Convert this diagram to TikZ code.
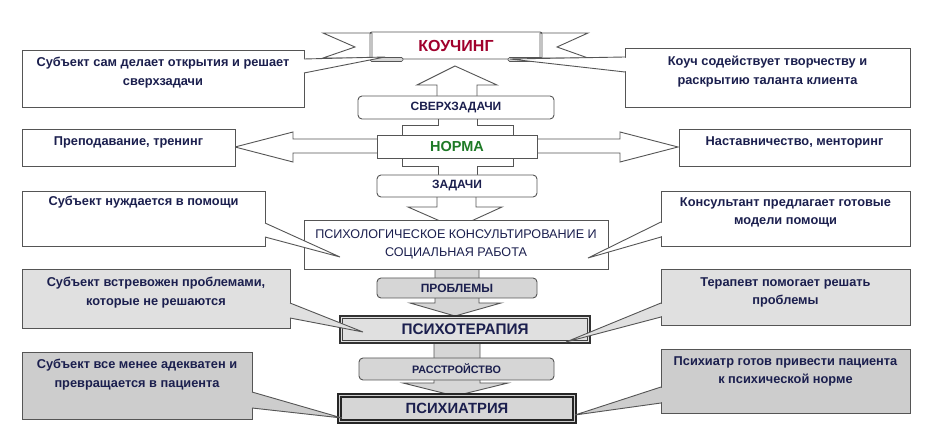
\documentclass[tikz,border=0pt]{standalone}
\usepackage{fontspec}
\setmainfont{Liberation Sans}
\usetikzlibrary{calc}
\definecolor{navy}{HTML}{1B1F4E}
\definecolor{edge}{HTML}{555555}
\definecolor{kred}{HTML}{A0002C}
\definecolor{ngreen}{HTML}{1E7A26}
\definecolor{gA}{HTML}{E0E0E0}
\definecolor{gB}{HTML}{CDCDCD}
\definecolor{gC}{HTML}{D6D6D6}
\tikzset{
  shp/.style={draw=edge, line width=0.9pt, fill=white, line join=miter},
  gshp/.style={draw=edge, line width=0.9pt, fill=gC},
  ctext/.style={text=navy, font=\fontsize{12.8}{18.5}\selectfont\bfseries, align=center, anchor=north, inner sep=0pt},
  cbox/.style={draw=edge, line width=0.9pt, inner sep=0pt, font=\fontsize{11}{14}\selectfont, text=black},
}
\begin{document}
\begin{tikzpicture}[x=1pt,y=-1pt]
\useasboundingbox (0,0) rectangle (938,446);
\fill[white] (0,0) rectangle (938,446);

% ---- block arrows (behind boxes)
\draw[shp] (437,100) -- (437,85) -- (417,85) -- (455,66) -- (497,85) -- (477,85) -- (477,100);
\draw[shp] (438,115) -- (438,125) -- (402,125) -- (402,166) -- (438,166) -- (438,180) -- (477,180) -- (477,166) -- (513,166) -- (513,125) -- (477,125) -- (477,115);
\draw[shp] (235,147) -- (293,132) -- (293,139) -- (620,139) -- (620,132) -- (678,147) -- (620,162) -- (620,153) -- (293,153) -- (293,162) -- cycle;
\draw[shp] (437,190) -- (437,207) -- (408,207) -- (456,228) -- (502,207) -- (476,207) -- (476,190);
\draw[gshp] (435,262) -- (435,303) -- (410,303) -- (455,316) -- (501,303) -- (479,303) -- (479,262);
\draw[gshp] (434,338) -- (434,383) -- (403,383) -- (455,396) -- (508,383) -- (480,383) -- (480,338);

% ---- banner
\draw[shp] (323,33) -- (372,33) -- (372,58) -- (323,58) -- (355,47) -- cycle;
\draw[shp] (588,33) -- (540,33) -- (540,58) -- (588,58) -- (557,47) -- cycle;
\node[cbox, rounded corners=2pt, minimum width=172pt, minimum height=27pt, text=kred,
      font=\fontsize{16}{18}\selectfont\bfseries] (kouch) at (456,45.5) {КОУЧИНГ};
\fill[gC, draw=edge, line width=0.7pt, rounded corners=1.5pt] (370,57.5) rectangle (403,61.5);
\fill[gC, draw=edge, line width=0.7pt, rounded corners=1.5pt] (508,57.5) rectangle (542,61.5);

% ---- central boxes
\node[cbox, fill=white, rounded corners=4pt, minimum width=196pt, minimum height=23pt,
      font=\fontsize{12}{14}\selectfont\bfseries, text=navy] (sverh) at (456,107.5) {СВЕРХЗАДАЧИ};
\node[cbox, fill=white, minimum width=160pt, minimum height=23pt, text=ngreen,
      font=\fontsize{14.5}{16}\selectfont\bfseries] (norma) at (457,146.5) {НОРМА};
\node[cbox, fill=white, rounded corners=4pt, minimum width=160pt, minimum height=22pt,
      font=\fontsize{12}{14}\selectfont\bfseries, text=navy] (zad) at (457,186) {ЗАДАЧИ};
\node[cbox, fill=white, minimum width=304pt, minimum height=49pt, align=center,
      font=\fontsize{12.6}{18}\selectfont, text=navy] (psy) at (456,244.5) {ПСИХОЛОГИЧЕСКОЕ КОНСУЛЬТИРОВАНИЕ И\\СОЦИАЛЬНАЯ РАБОТА};
\node[cbox, fill=gC, rounded corners=4pt, minimum width=160pt, minimum height=20pt,
      font=\fontsize{12}{14}\selectfont\bfseries, text=navy] (probl) at (457,288) {ПРОБЛЕМЫ};
\node[cbox, fill=gA, draw=black!80, line width=1.1pt, minimum width=250pt, minimum height=27pt] (pter) at (465,329.5) {};
\draw[black!75, line width=0.8pt] ($(pter.north west)+(3,3)$) rectangle ($(pter.south east)+(-3,-3)$);
\node[text=navy, font=\fontsize{15.3}{17}\selectfont\bfseries] at (pter) {ПСИХОТЕРАПИЯ};
\node[cbox, fill=gC, rounded corners=4pt, minimum width=195pt, minimum height=22pt,
      font=\fontsize{10.8}{14}\selectfont\bfseries, text=navy] (rasst) at (456.5,369) {РАССТРОЙСТВО};
\node[cbox, fill=gB, draw=black!85, line width=1.1pt, minimum width=238pt, minimum height=29pt] (piat) at (457,408.5) {};
\draw[black!85, fill=gC, line width=1.8pt] ($(piat.north west)+(3.5,3.5)$) rectangle ($(piat.south east)+(-3.5,-3.5)$);
\node[text=navy, font=\fontsize{14.8}{17}\selectfont\bfseries] at (piat) {ПСИХИАТРИЯ};

% ---- callouts, left
\draw[shp] (22,50) rectangle (304,107);
\draw[shp] (304,59) -- (385,57) -- (304,73);
\draw[white, line width=1.2pt] (304,60) -- (304,72);
\node[ctext] (l1) at (163,57) {Субъект сам делает открытия и решает\\сверхзадачи};

\draw[shp] (22,129) rectangle (235,166);
\node[ctext] (l2) at (128.5,136) {Преподавание, тренинг};

\draw[shp] (22,191) rectangle (265,246);
\draw[shp] (265,223) -- (340,257) -- (265,237);
\draw[white, line width=1.2pt] (265,224) -- (265,236);
\node[ctext] (l3) at (143.5,196) {Субъект нуждается в помощи};

\draw[shp, fill=gA] (22,269) rectangle (290,328);
\draw[shp, fill=gA] (290,303) -- (363,332) -- (290,318);
\draw[gA, line width=1.2pt] (290,304) -- (290,317);
\node[ctext] (l4) at (156,277) {Субъект встревожен проблемами,\\которые не решаются};

\draw[shp, fill=gB] (22,352) rectangle (252,419);
\draw[shp, fill=gB] (252,392) -- (342,418) -- (252,408);
\draw[gB, line width=1.2pt] (252,393) -- (252,407);
\node[ctext] (l5) at (137,359) {Субъект все менее адекватен и\\превращается в пациента};

% ---- callouts, right
\draw[shp] (625,48) rectangle (910,107);
\draw[shp] (625,57) -- (510,59) -- (625,72);
\draw[white, line width=1.2pt] (625,58) -- (625,71);
\node[ctext] (r1) at (767.5,56) {Коуч содействует творчеству и\\раскрытию таланта клиента};

\draw[shp] (679,129) rectangle (910,166);
\node[ctext] (r2) at (794.5,136) {Наставничество, менторинг};

\draw[shp] (661,191) rectangle (910,246);
\draw[shp] (661,222) -- (588,258) -- (661,237);
\draw[white, line width=1.2pt] (661,223) -- (661,236);
\node[ctext] (r3) at (785.5,197) {Консультант предлагает готовые\\модели помощи};

\draw[shp, fill=gA] (661,269) rectangle (910,325);
\draw[shp, fill=gA] (661,303) -- (566,342) -- (661,317);
\draw[gA, line width=1.2pt] (661,304) -- (661,316);
\node[ctext] (r4) at (785.5,277) {Терапевт помогает решать\\проблемы};

\draw[shp, fill=gB] (661,349) rectangle (910,413);
\draw[shp, fill=gB] (661,387) -- (575,415) -- (661,403);
\draw[gB, line width=1.2pt] (661,388) -- (661,402);
\node[ctext] (r5) at (785.5,356) {Психиатр готов привести пациента\\к психической норме};
\end{tikzpicture}
\end{document}
